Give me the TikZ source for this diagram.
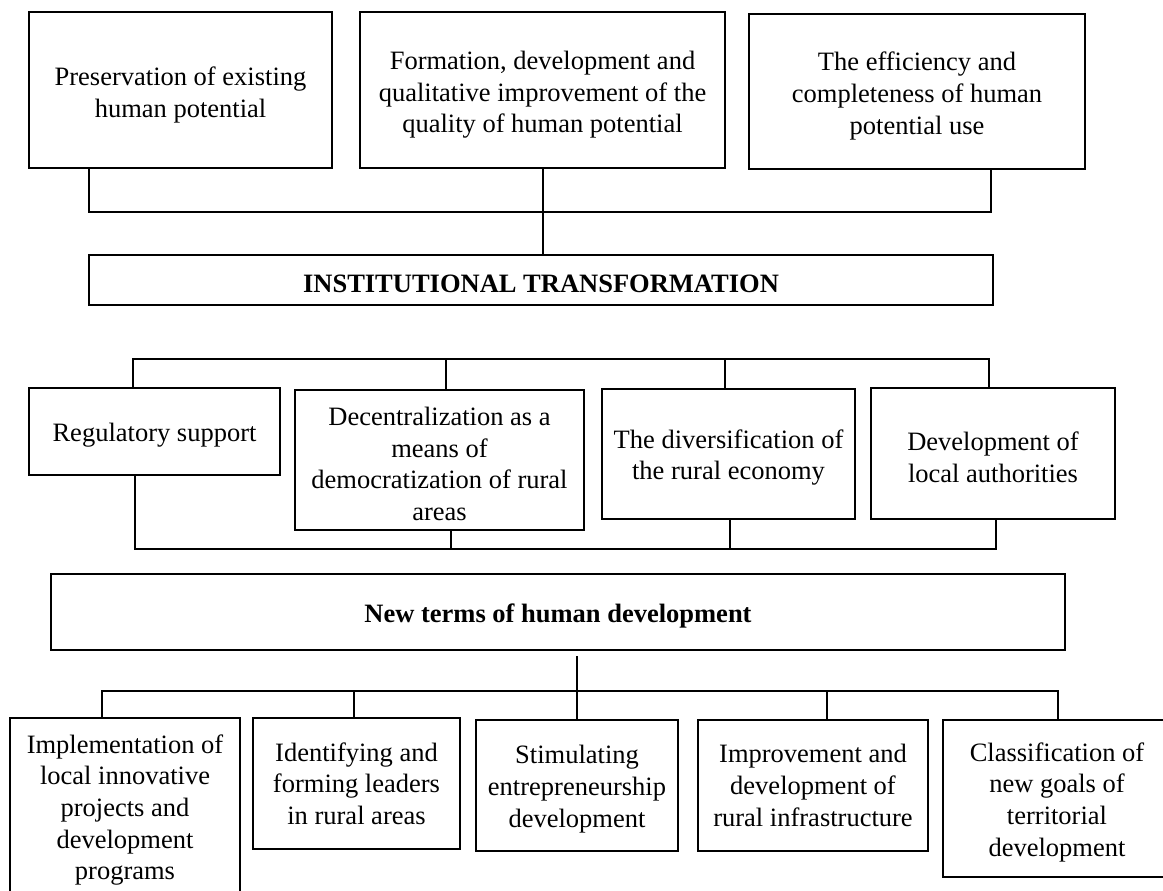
\documentclass[tikz,border=0pt]{standalone}
\usepackage{fontspec}
\setmainfont{Liberation Serif}
\newcommand\boxfont{\fontsize{26.5}{31.7}\selectfont}
\newcommand\lowstrut{\rule{0pt}{26pt}}
\newcommand\topstrut{\rule{0pt}{28pt}}
\begin{document}
\begin{tikzpicture}[x=1pt,y=-1pt,
  box/.style={draw,line width=2pt,align=center,inner sep=0pt,font=\boxfont},
  conn/.style={line width=2pt}]
\useasboundingbox (0,0) rectangle (1163,891);
\clip (0,0) rectangle (1163,891);
% top row
\node[box,minimum width=303pt,minimum height=156pt] (b1) at (180.5,90) {\topstrut Preservation of existing\\human potential};
\node[box,minimum width=365pt,minimum height=156pt] (b2) at (542.5,90) {\topstrut Formation, development and\\qualitative improvement of the\\quality of human potential};
\node[box,minimum width=336pt,minimum height=155pt] (b3) at (917,91.5) {\topstrut The efficiency and\\completeness of human\\potential use};
\node[box,minimum width=904pt,minimum height=50pt] (inst) at (541,280) {\lowstrut\textbf{INSTITUTIONAL TRANSFORMATION}};
% middle row
\node[box,minimum width=251pt,minimum height=87pt] (m1) at (154.5,431.5) {\lowstrut Regulatory support};
\node[box,minimum width=289pt,minimum height=140pt] (m2) at (439.5,460) {\lowstrut Decentralization as a\\means of\\democratization of rural\\areas};
\node[box,minimum width=253pt,minimum height=130pt] (m3) at (728.5,454) {\lowstrut The diversification of\\the rural economy};
\node[box,minimum width=244pt,minimum height=131pt] (m4) at (993,453.5) {\lowstrut Development of\\local authorities};
\node[box,minimum width=1014pt,minimum height=76pt] (nt) at (558,612) {\lowstrut\textbf{New terms of human development}};
% bottom row
\node[box,minimum width=230pt,minimum height=184pt] (c1) at (125,810) {Implementation of\\local innovative\\projects and\\development\\programs};
\node[box,minimum width=207pt,minimum height=131pt] (c2) at (356.5,783.5) {Identifying and\\forming leaders\\in rural areas};
\node[box,minimum width=202pt,minimum height=131pt] (c3) at (577,785.5) {\lowstrut Stimulating\\entrepreneurship\\development};
\node[box,minimum width=230pt,minimum height=131pt] (c4) at (813,785.5) {Improvement and\\development of\\rural infrastructure};
\node[box,minimum width=228pt,minimum height=157pt] (c5) at (1057,798.5) {\lowstrut Classification of\\new goals of\\territorial\\development};
% top connectors
\coordinate (t1) at (545,212);
\draw[conn] ([xshift=61pt]b1.south west) |- (t1);
\draw[conn] ([xshift=243pt]b3.south west) |- (t1);
\draw[conn] (b2.south) -- (b2.south |- inst.north);
% middle connectors
\coordinate (mt) at (560,359);
\draw[conn] ([xshift=105pt]m1.north west) |- (mt);
\draw[conn] ([xshift=119pt]m4.north west) |- (mt);
\draw[conn] ([xshift=152pt]m2.north west) |- (mt);
\draw[conn] ([xshift=124pt]m3.north west) |- (mt);
\coordinate (mb) at (560,549);
\draw[conn] ([xshift=107pt]m1.south west) |- (mb);
\draw[conn] ([xshift=126pt]m4.south west) |- (mb);
\draw[conn] ([xshift=157pt]m2.south west) |- (mb);
\draw[conn] ([xshift=129pt]m3.south west) |- (mb);
% bottom connectors
\coordinate (bt) at (577,691);
\coordinate (ntstem) at (577,656);
\draw[conn] (ntstem) -- (c3.north);
\draw[conn] ([xshift=93pt]c1.north west) |- (bt);
\draw[conn] ([xshift=116pt]c5.north west) |- (bt);
\draw[conn] ([xshift=102pt]c2.north west) |- (bt);
\draw[conn] ([xshift=130pt]c4.north west) |- (bt);
\end{tikzpicture}
\end{document}
